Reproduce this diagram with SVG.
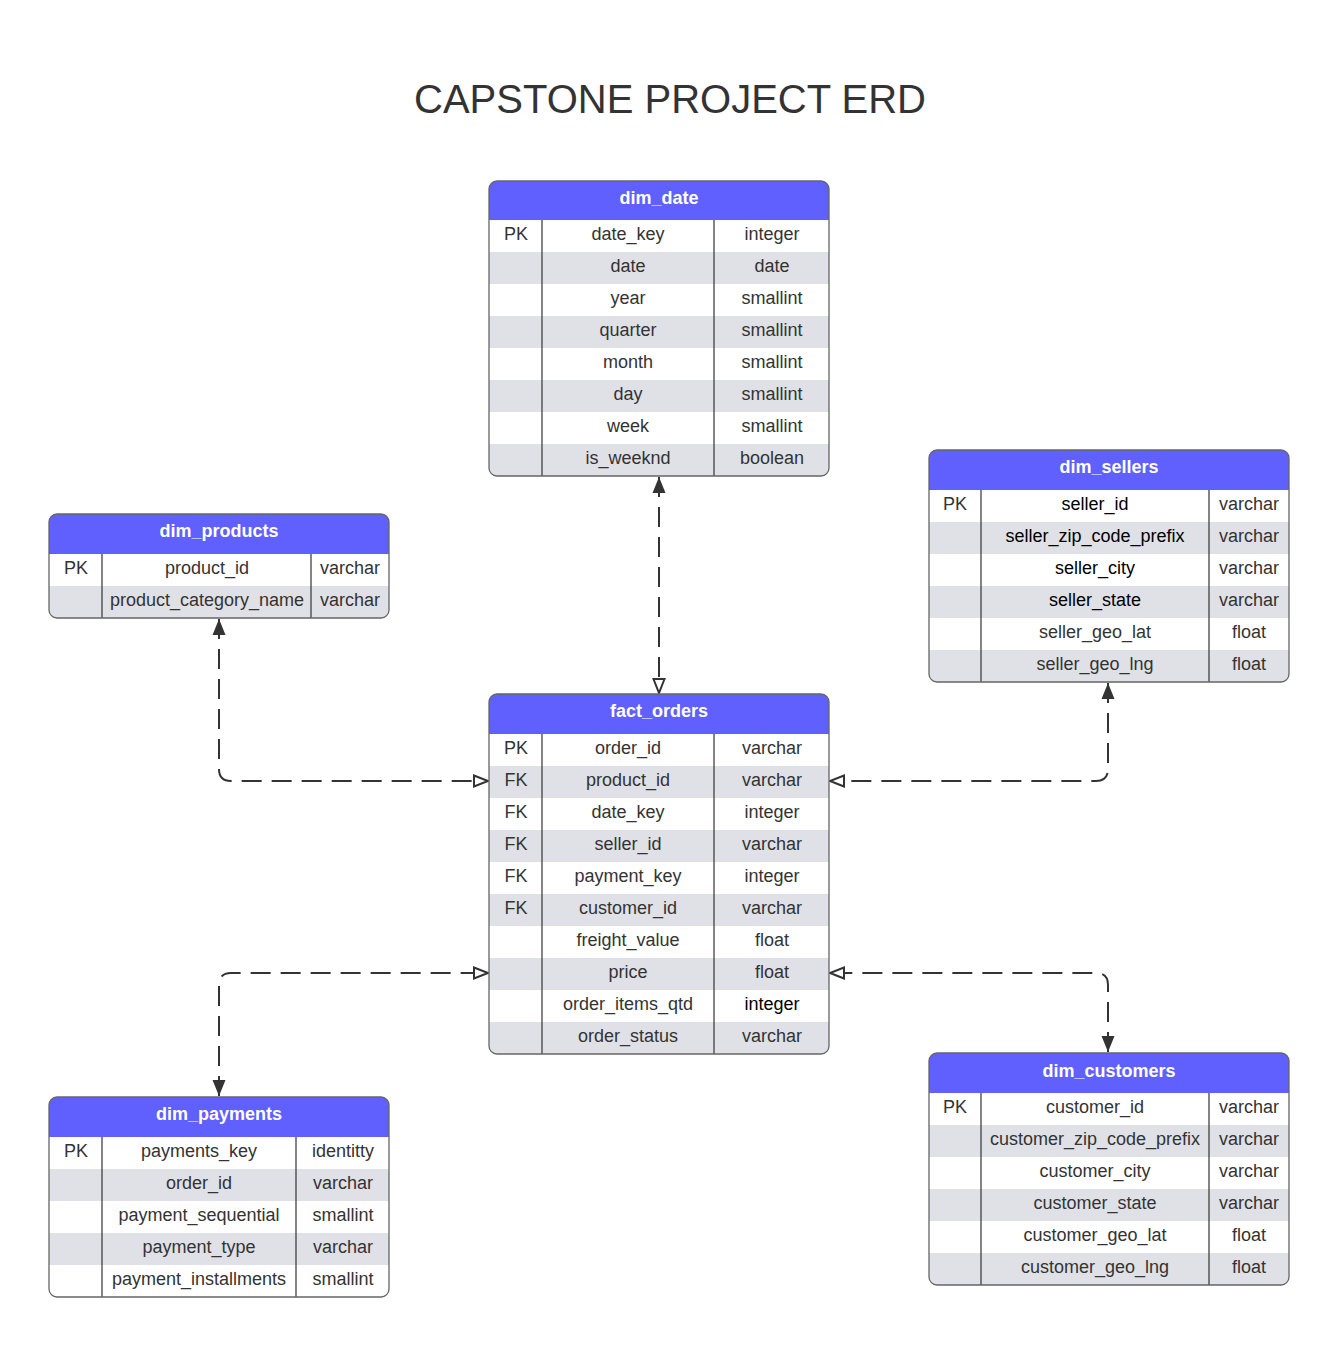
<svg xmlns="http://www.w3.org/2000/svg" width="1335" height="1359" viewBox="0 0 1335 1359">
<style>
text{font-family:"Liberation Sans",Arial,sans-serif;font-size:18px;fill:#333;text-anchor:middle}
.title{font-size:40px;fill:#333}
.hd{font-weight:bold;fill:#fff}
.k{fill:#000}
.hdr{fill:#6060FF}
.g{fill:#DFE1E6}
.w{fill:#fff}
.out{fill:none;stroke:#666;stroke-width:1.3}
.div{stroke:#333;stroke-width:1.2}
.conn{fill:none;stroke:#333;stroke-width:2;stroke-dasharray:20 10}
</style>
<defs>
<marker id="fill" markerUnits="userSpaceOnUse" markerWidth="18" markerHeight="14" refX="16" refY="6.5" orient="auto-start-reverse" overflow="visible"><path d="M0,0 L16,6.5 L0,13 z" fill="#333"/></marker>
<marker id="hollow" markerUnits="userSpaceOnUse" markerWidth="18" markerHeight="14" refX="15" refY="6" orient="auto-start-reverse" overflow="visible"><path d="M1,0.5 L15,6 L1,11.5 z" fill="#fff" stroke="#333" stroke-width="2"/></marker>
<clipPath id="c1"><rect x="489" y="181" width="340" height="295" rx="8"/></clipPath>
<clipPath id="c2"><rect x="49" y="514" width="340" height="104" rx="8"/></clipPath>
<clipPath id="c3"><rect x="929" y="450" width="360" height="232" rx="8"/></clipPath>
<clipPath id="c4"><rect x="489" y="694" width="340" height="360" rx="8"/></clipPath>
<clipPath id="c5"><rect x="49" y="1097" width="340" height="200" rx="8"/></clipPath>
<clipPath id="c6"><rect x="929" y="1053" width="360" height="232" rx="8"/></clipPath>
</defs>
<rect width="1335" height="1359" fill="#fff"/>
<text class="title" x="670" y="113">CAPSTONE PROJECT ERD</text>

<g id="connectors">
<path class="conn" d="M659,477 L659,693" marker-start="url(#fill)" marker-end="url(#hollow)"/>
<path class="conn" d="M219,619 L219,769 Q219,781 231,781 L488,781" marker-start="url(#fill)" marker-end="url(#hollow)"/>
<path class="conn" d="M1108,683 L1108,769 Q1108,781 1096,781 L830,781" marker-start="url(#fill)" marker-end="url(#hollow)"/>
<path class="conn" d="M219,1096 L219,985 Q219,973 231,973 L488,973" marker-start="url(#fill)" marker-end="url(#hollow)"/>
<path class="conn" d="M1108,1052 L1108,985 Q1108,973 1096,973 L830,973" marker-start="url(#fill)" marker-end="url(#hollow)"/>
</g>

<g id="dim_date">
<g clip-path="url(#c1)">
<rect class="w" x="489" y="181" width="340" height="295"/>
<rect class="hdr" x="489" y="181" width="340" height="39"/>
<rect class="g" x="489" y="252" width="340" height="32"/>
<rect class="g" x="489" y="316" width="340" height="32"/>
<rect class="g" x="489" y="380" width="340" height="32"/>
<rect class="g" x="489" y="444" width="340" height="32"/>
</g>
<line class="div" x1="542" y1="220" x2="542" y2="476"/>
<line class="div" x1="714" y1="220" x2="714" y2="476"/>
<rect class="out" x="489" y="181" width="340" height="295" rx="8"/>
<text class="hd" x="659" y="204">dim_date</text>
<text x="516" y="240">PK</text><text x="628" y="240">date_key</text><text x="772" y="240">integer</text>
<text x="628" y="272">date</text><text x="772" y="272">date</text>
<text x="628" y="304">year</text><text x="772" y="304">smallint</text>
<text x="628" y="336">quarter</text><text x="772" y="336">smallint</text>
<text x="628" y="368">month</text><text x="772" y="368">smallint</text>
<text x="628" y="400">day</text><text x="772" y="400">smallint</text>
<text x="628" y="432">week</text><text x="772" y="432">smallint</text>
<text x="628" y="464">is_weeknd</text><text x="772" y="464">boolean</text>
</g>

<g id="dim_products">
<g clip-path="url(#c2)">
<rect class="w" x="49" y="514" width="340" height="104"/>
<rect class="hdr" x="49" y="514" width="340" height="40"/>
<rect class="g" x="49" y="586" width="340" height="32"/>
</g>
<line class="div" x1="102" y1="554" x2="102" y2="618"/>
<line class="div" x1="311" y1="554" x2="311" y2="618"/>
<rect class="out" x="49" y="514" width="340" height="104" rx="8"/>
<text class="hd" x="219" y="537">dim_products</text>
<text x="76" y="574">PK</text><text x="207" y="574">product_id</text><text x="350" y="574">varchar</text>
<text x="207" y="606">product_category_name</text><text x="350" y="606">varchar</text>
</g>

<g id="dim_sellers">
<g clip-path="url(#c3)">
<rect class="w" x="929" y="450" width="360" height="232"/>
<rect class="hdr" x="929" y="450" width="360" height="40"/>
<rect class="g" x="929" y="522" width="360" height="32"/>
<rect class="g" x="929" y="586" width="360" height="32"/>
<rect class="g" x="929" y="650" width="360" height="32"/>
</g>
<line class="div" x1="981" y1="490" x2="981" y2="682"/>
<line class="div" x1="1209" y1="490" x2="1209" y2="682"/>
<rect class="out" x="929" y="450" width="360" height="232" rx="8"/>
<text class="hd" x="1109" y="473">dim_sellers</text>
<text x="955" y="510">PK</text><text class="k" x="1095" y="510">seller_id</text><text x="1249" y="510">varchar</text>
<text class="k" x="1095" y="542">seller_zip_code_prefix</text><text x="1249" y="542">varchar</text>
<text class="k" x="1095" y="574">seller_city</text><text x="1249" y="574">varchar</text>
<text class="k" x="1095" y="606">seller_state</text><text x="1249" y="606">varchar</text>
<text x="1095" y="638">seller_geo_lat</text><text x="1249" y="638">float</text>
<text x="1095" y="670">seller_geo_lng</text><text x="1249" y="670">float</text>
</g>

<g id="fact_orders">
<g clip-path="url(#c4)">
<rect class="w" x="489" y="694" width="340" height="360"/>
<rect class="hdr" x="489" y="694" width="340" height="40"/>
<rect class="g" x="489" y="766" width="340" height="32"/>
<rect class="g" x="489" y="830" width="340" height="32"/>
<rect class="g" x="489" y="894" width="340" height="32"/>
<rect class="g" x="489" y="958" width="340" height="32"/>
<rect class="g" x="489" y="1022" width="340" height="32"/>
</g>
<line class="div" x1="542" y1="734" x2="542" y2="1054"/>
<line class="div" x1="714" y1="734" x2="714" y2="1054"/>
<rect class="out" x="489" y="694" width="340" height="360" rx="8"/>
<text class="hd" x="659" y="717">fact_orders</text>
<text x="516" y="754">PK</text><text x="628" y="754">order_id</text><text x="772" y="754">varchar</text>
<text x="516" y="786">FK</text><text x="628" y="786">product_id</text><text x="772" y="786">varchar</text>
<text x="516" y="818">FK</text><text x="628" y="818">date_key</text><text x="772" y="818">integer</text>
<text x="516" y="850">FK</text><text x="628" y="850">seller_id</text><text x="772" y="850">varchar</text>
<text x="516" y="882">FK</text><text x="628" y="882">payment_key</text><text x="772" y="882">integer</text>
<text x="516" y="914">FK</text><text x="628" y="914">customer_id</text><text x="772" y="914">varchar</text>
<text x="628" y="946">freight_value</text><text x="772" y="946">float</text>
<text x="628" y="978">price</text><text x="772" y="978">float</text>
<text x="628" y="1010">order_items_qtd</text><text class="k" x="772" y="1010">integer</text>
<text x="628" y="1042">order_status</text><text x="772" y="1042">varchar</text>
</g>

<g id="dim_payments">
<g clip-path="url(#c5)">
<rect class="w" x="49" y="1097" width="340" height="200"/>
<rect class="hdr" x="49" y="1097" width="340" height="40"/>
<rect class="g" x="49" y="1169" width="340" height="32"/>
<rect class="g" x="49" y="1233" width="340" height="32"/>
</g>
<line class="div" x1="102" y1="1137" x2="102" y2="1297"/>
<line class="div" x1="296" y1="1137" x2="296" y2="1297"/>
<rect class="out" x="49" y="1097" width="340" height="200" rx="8"/>
<text class="hd" x="219" y="1120">dim_payments</text>
<text x="76" y="1157">PK</text><text x="199" y="1157">payments_key</text><text x="343" y="1157">identitty</text>
<text x="199" y="1189">order_id</text><text x="343" y="1189">varchar</text>
<text x="199" y="1221">payment_sequential</text><text x="343" y="1221">smallint</text>
<text x="199" y="1253">payment_type</text><text x="343" y="1253">varchar</text>
<text x="199" y="1285">payment_installments</text><text x="343" y="1285">smallint</text>
</g>

<g id="dim_customers">
<g clip-path="url(#c6)">
<rect class="w" x="929" y="1053" width="360" height="232"/>
<rect class="hdr" x="929" y="1053" width="360" height="40"/>
<rect class="g" x="929" y="1125" width="360" height="32"/>
<rect class="g" x="929" y="1189" width="360" height="32"/>
<rect class="g" x="929" y="1253" width="360" height="32"/>
</g>
<line class="div" x1="981" y1="1093" x2="981" y2="1285"/>
<line class="div" x1="1209" y1="1093" x2="1209" y2="1285"/>
<rect class="out" x="929" y="1053" width="360" height="232" rx="8"/>
<text class="hd" x="1109" y="1077">dim_customers</text>
<text x="955" y="1113">PK</text><text x="1095" y="1113">customer_id</text><text x="1249" y="1113">varchar</text>
<text x="1095" y="1145">customer_zip_code_prefix</text><text x="1249" y="1145">varchar</text>
<text x="1095" y="1177">customer_city</text><text x="1249" y="1177">varchar</text>
<text x="1095" y="1209">customer_state</text><text x="1249" y="1209">varchar</text>
<text x="1095" y="1241">customer_geo_lat</text><text x="1249" y="1241">float</text>
<text x="1095" y="1273">customer_geo_lng</text><text x="1249" y="1273">float</text>
</g>
</svg>
